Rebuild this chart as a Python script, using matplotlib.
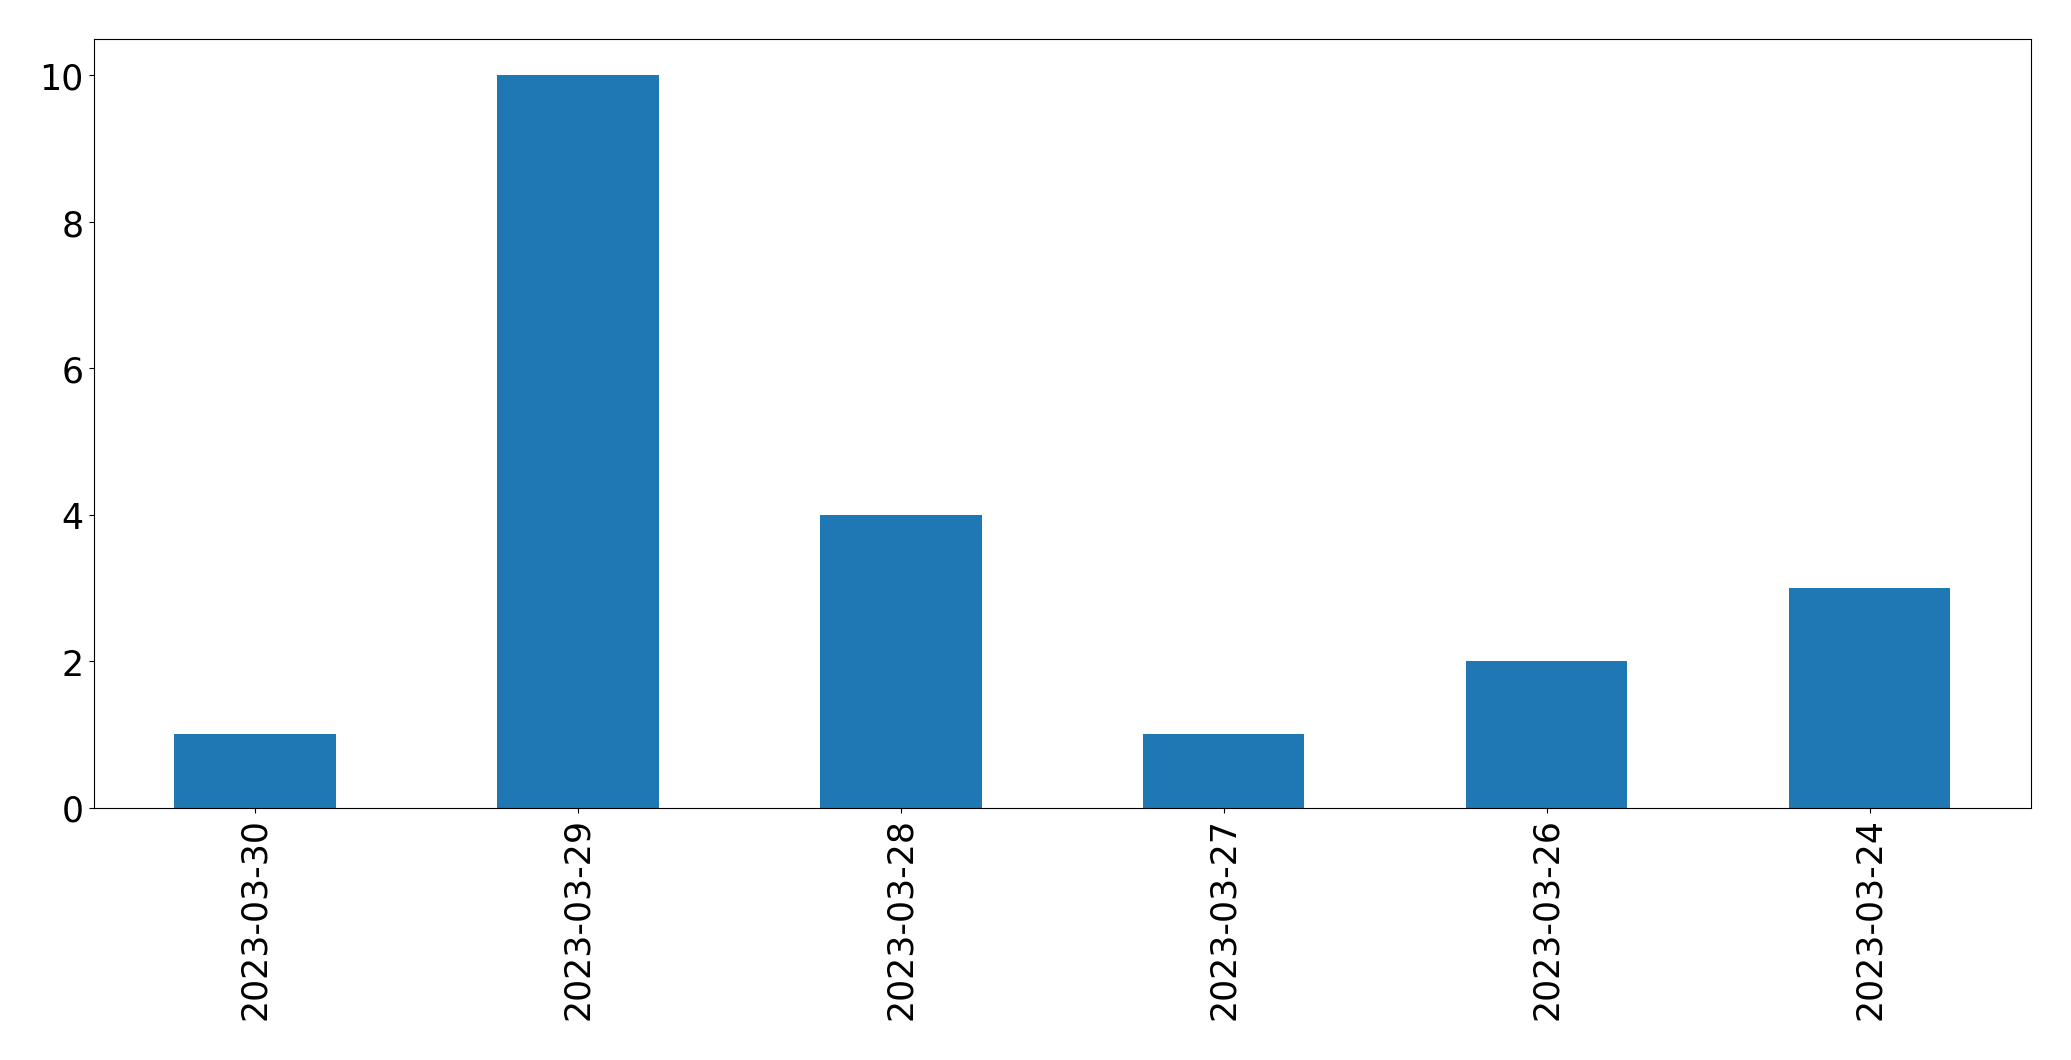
import matplotlib
matplotlib.use("Agg")
import matplotlib.pyplot as plt
import pandas as pd

# counts per day, newest first (as in the source)
dates = ["2023-03-30", "2023-03-29", "2023-03-28", "2023-03-27", "2023-03-26", "2023-03-24"]
counts = [1, 10, 4, 1, 2, 3]

s = pd.Series(counts, index=dates)

fig = plt.figure(figsize=(20.71, 10.6099), dpi=100)
ax = fig.add_axes([93.5 / 2071, 1 - 808.5 / 1061, (2031 - 93.5) / 2071, (808.5 - 39.5) / 1061])
s.plot.bar(ax=ax, color="#1f77b4")
ax.tick_params(axis="both", labelsize=25)

fig.savefig("out.png", dpi=100)
